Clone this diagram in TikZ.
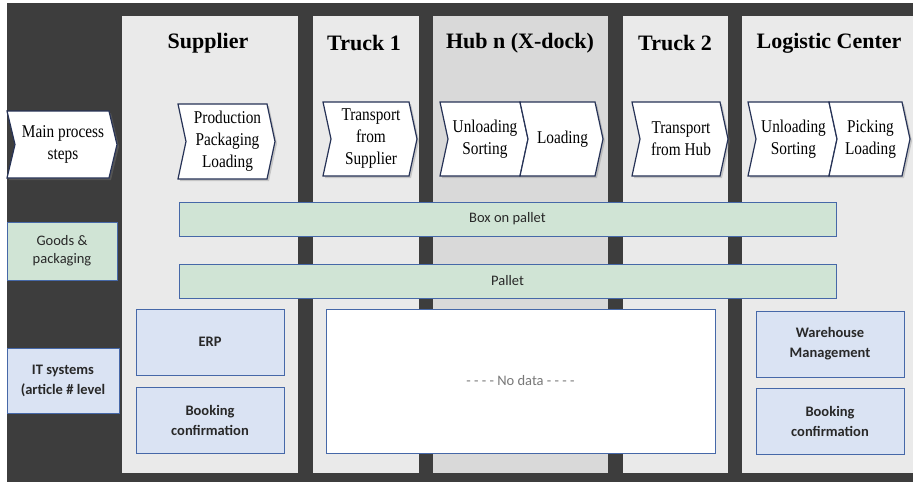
\documentclass[tikz,border=0pt]{standalone}
\usepackage{fontspec}
\setmainfont{Liberation Serif}
\newfontfamily\calfont{Carlito}
\newfontfamily\hdrfont{Liberation Serif Bold}
\newfontfamily\chevfont[FakeStretch=0.85]{Liberation Serif}
\usetikzlibrary{shadows}

\definecolor{bgdark}{RGB}{61,61,61}
\definecolor{lanegray}{RGB}{234,234,234}
\definecolor{hubgray}{RGB}{217,217,217}
\definecolor{chevblue}{RGB}{38,50,86}
\definecolor{boxblue}{RGB}{70,104,168}
\definecolor{goodsgreen}{RGB}{208,228,213}
\definecolor{itblue}{RGB}{218,227,243}
\definecolor{txtgray}{RGB}{40,40,40}
\definecolor{nodatagray}{RGB}{120,120,120}

\begin{document}
\begin{tikzpicture}[x=1pt, y=-1pt,
    hdr/.style={font=\hdrfont\fontsize{22}{24}\selectfont},
    chevron/.style={draw=chevblue, line width=1.2pt, fill=white,
        drop shadow={shadow xshift=2pt, shadow yshift=-2pt, opacity=0.35}},
    chevtext/.style={align=center, font=\chevfont\fontsize{18}{22}\selectfont},
    goods/.style={draw=boxblue, line width=0.9pt, fill=goodsgreen, align=center,
        text=txtgray, font=\calfont\fontsize{14.5}{18}\selectfont},
    itbox/.style={draw=boxblue, line width=0.9pt, fill=itblue, align=center,
        text=txtgray, font=\calfont\fontsize{14.5}{20}\selectfont\bfseries}]
    \useasboundingbox (0,0) rectangle (913,482);
    \fill[white] (0,0) rectangle (913,482);
    \fill[bgdark] (7,3) rectangle (913,482);

    % Lanes
    \fill[lanegray] (122,16) rectangle (298,473);
    \fill[lanegray] (313,16) rectangle (419,473);
    \fill[hubgray] (433,16) rectangle (608,473);
    \fill[lanegray] (623,16) rectangle (728,473);
    \fill[lanegray] (742,16) rectangle (913,473);

    % Lane headers
    \node[hdr] (supplier) at (208,43) {Supplier};
    \node[hdr] (truckone) at (364,43) {Truck 1};
    \node[hdr] (hub) at (520,43) {Hub n (X-dock)};
    \node[hdr] (trucktwo) at (675,43) {Truck 2};
    \node[hdr] (logctr) at (829,43) {Logistic Center};

    % Process steps
    \foreach \xa/\xb/\ya/\yb/\nm/\txt in {
        7/117/111/178/mainstep/{Main process\\steps},
        178/275/104/179/prod/{Production\\Packaging\\Loading},
        323/417/102/176/trsup/{Transport\\from\\Supplier},
        440/528/102/176/hubunl/{Unloading\\Sorting},
        520/603/102/176/hubld/{Loading},
        632/728/102/176/trhub/{Transport\\from Hub},
        748/837/102/176/lcunl/{Unloading\\Sorting},
        829/910/102/176/lcpick/{Picking\\Loading}} {
        \draw[chevron] (\xa,\ya) -- (\xb-8,\ya) -- (\xb,{(\ya+\yb)/2})
            -- (\xb-8,\yb) -- (\xa,\yb) -- (\xa+8,{(\ya+\yb)/2}) -- cycle;
        \node[chevtext] (\nm) at ({(\xa+\xb)/2+1},{(\ya+\yb)/2}) {\txt};
    }

    % Goods & packaging
    \node[goods, minimum width=110, minimum height=58] (goodslbl) at (62,251) {Goods \&\\packaging};
    \node[goods, minimum width=657, minimum height=34] (boxpal) at (507.5,219) {Box on pallet};
    \node[goods, minimum width=657, minimum height=34] (pallet) at (507.5,281) {Pallet};

    % IT systems
    \node[itbox, minimum width=112, minimum height=65] (itlbl) at (63,380.5) {IT systems\\(article \# level};
    \node[itbox, minimum width=148, minimum height=66] (erp) at (210,342) {ERP};
    \node[itbox, minimum width=148, minimum height=66] (booksup) at (210,420) {Booking\\confirmation};
    \node[draw=boxblue, line width=0.9pt, fill=white, minimum width=389, minimum height=144,
        text=nodatagray, font=\calfont\fontsize{14.5}{18}\selectfont] (nodata) at (520.5,381) {- - - - No data - - - -};
    \node[itbox, minimum width=148, minimum height=66] (wms) at (830,344) {Warehouse\\Management};
    \node[itbox, minimum width=148, minimum height=66] (booklc) at (830,421) {Booking\\confirmation};
\end{tikzpicture}
\end{document}
